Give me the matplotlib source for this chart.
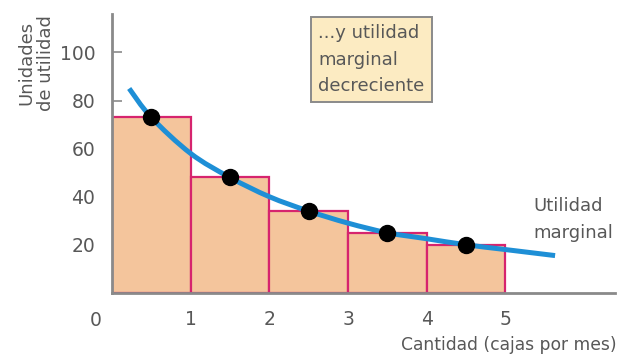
import numpy as np
import matplotlib
matplotlib.use("Agg")
import matplotlib.pyplot as plt
from matplotlib.path import Path
from matplotlib.patches import PathPatch

# Marginal utility of each box consumed per month
quantities = [1, 2, 3, 4, 5]
marginal_utility = [73, 48, 34, 25, 20]

# Points along the smooth marginal-utility curve
curve_x = [0.22, 0.5, 1.0, 1.5, 2.0, 2.5, 3.0, 3.5, 4.0, 4.5, 5.0, 5.63]
curve_y = [85, 73, 58, 48, 40, 34, 29, 25, 22.5, 20, 18, 15.5]

y_ticks = [20, 40, 60, 80, 100]
x_ticks = [1, 2, 3, 4, 5]

TEXT = "#585858"
AXIS = "#8a8a8a"
FILL = "#F4C59C"
EDGE = "#D6246E"
BLUE = "#1E8FD6"

plt.rcParams["font.family"] = ["DejaVu Sans"]

fig = plt.figure(figsize=(6.18, 3.58), dpi=100)
ax = fig.add_axes([0.181, 0.182, 0.814, 0.779])
ax.set_xlim(0, 6.39)
ax.set_ylim(0, 116)

# Step bars: each box's marginal utility
lefts = [q - 1 for q in quantities]
ax.bar(lefts, marginal_utility, width=1.0, align="edge", color=FILL,
       edgecolor=EDGE, linewidth=1.6, zorder=2)


def catmull_rom_path(xs, ys):
    pts = np.column_stack([xs, ys])
    verts = [pts[0]]
    codes = [Path.MOVETO]
    n = len(pts)
    for i in range(n - 1):
        p0 = pts[i - 1] if i > 0 else pts[i]
        p1 = pts[i]
        p2 = pts[i + 1]
        p3 = pts[i + 2] if i + 2 < n else pts[i + 1]
        c1 = p1 + (p2 - p0) / 6.0
        c2 = p2 - (p3 - p1) / 6.0
        verts += [c1, c2, p2]
        codes += [Path.CURVE4] * 3
    return Path(verts, codes)


curve = PathPatch(catmull_rom_path(curve_x, curve_y), facecolor="none",
                  edgecolor=BLUE, linewidth=3.6, capstyle="butt", zorder=3)
ax.add_patch(curve)

mids = [q - 0.5 for q in quantities]
ax.plot(mids, marginal_utility, "o", color="black", markersize=11.5, zorder=4)

# Axes styling
for side in ("top", "right"):
    ax.spines[side].set_visible(False)
for side in ("left", "bottom"):
    ax.spines[side].set_color(AXIS)
    ax.spines[side].set_linewidth(2)
    ax.spines[side].set_zorder(5)

ax.set_yticks(y_ticks)
ax.set_yticklabels([str(v) for v in y_ticks])
ax.tick_params(axis="y", direction="in", length=7, width=1.2, color=AXIS,
               labelsize=13.5, labelcolor=TEXT, pad=12)
ax.set_xticks(x_ticks)
ax.set_xticklabels([str(v) for v in x_ticks])
ax.tick_params(axis="x", length=0, labelsize=13.5, labelcolor=TEXT, pad=12)

ax.text(-0.21, -7.5, "0", ha="center", va="top", fontsize=13.5, color=TEXT,
        clip_on=False)

fig.text(0.058, 0.825, "Unidades\nde utilidad", rotation=90, ha="center",
         va="center", fontsize=13, color=TEXT, linespacing=1.1)

fig.text(0.998, 0.035, "Cantidad (cajas por mes)", ha="right", va="center",
         fontsize=12.3, color=TEXT)

ax.text(5.36, 30.5, "Utilidad\nmarginal", ha="left", va="center",
        fontsize=13, color=TEXT, linespacing=1.6)

ax.text(2.62, 97, "...y utilidad\nmarginal\ndecreciente", ha="left",
        va="center", fontsize=13, color=TEXT, linespacing=1.6,
        bbox=dict(boxstyle="square,pad=0.4", facecolor="#FCEBC2",
                  edgecolor=AXIS, linewidth=1.4), zorder=6)

fig.savefig("out.png", dpi=100)
